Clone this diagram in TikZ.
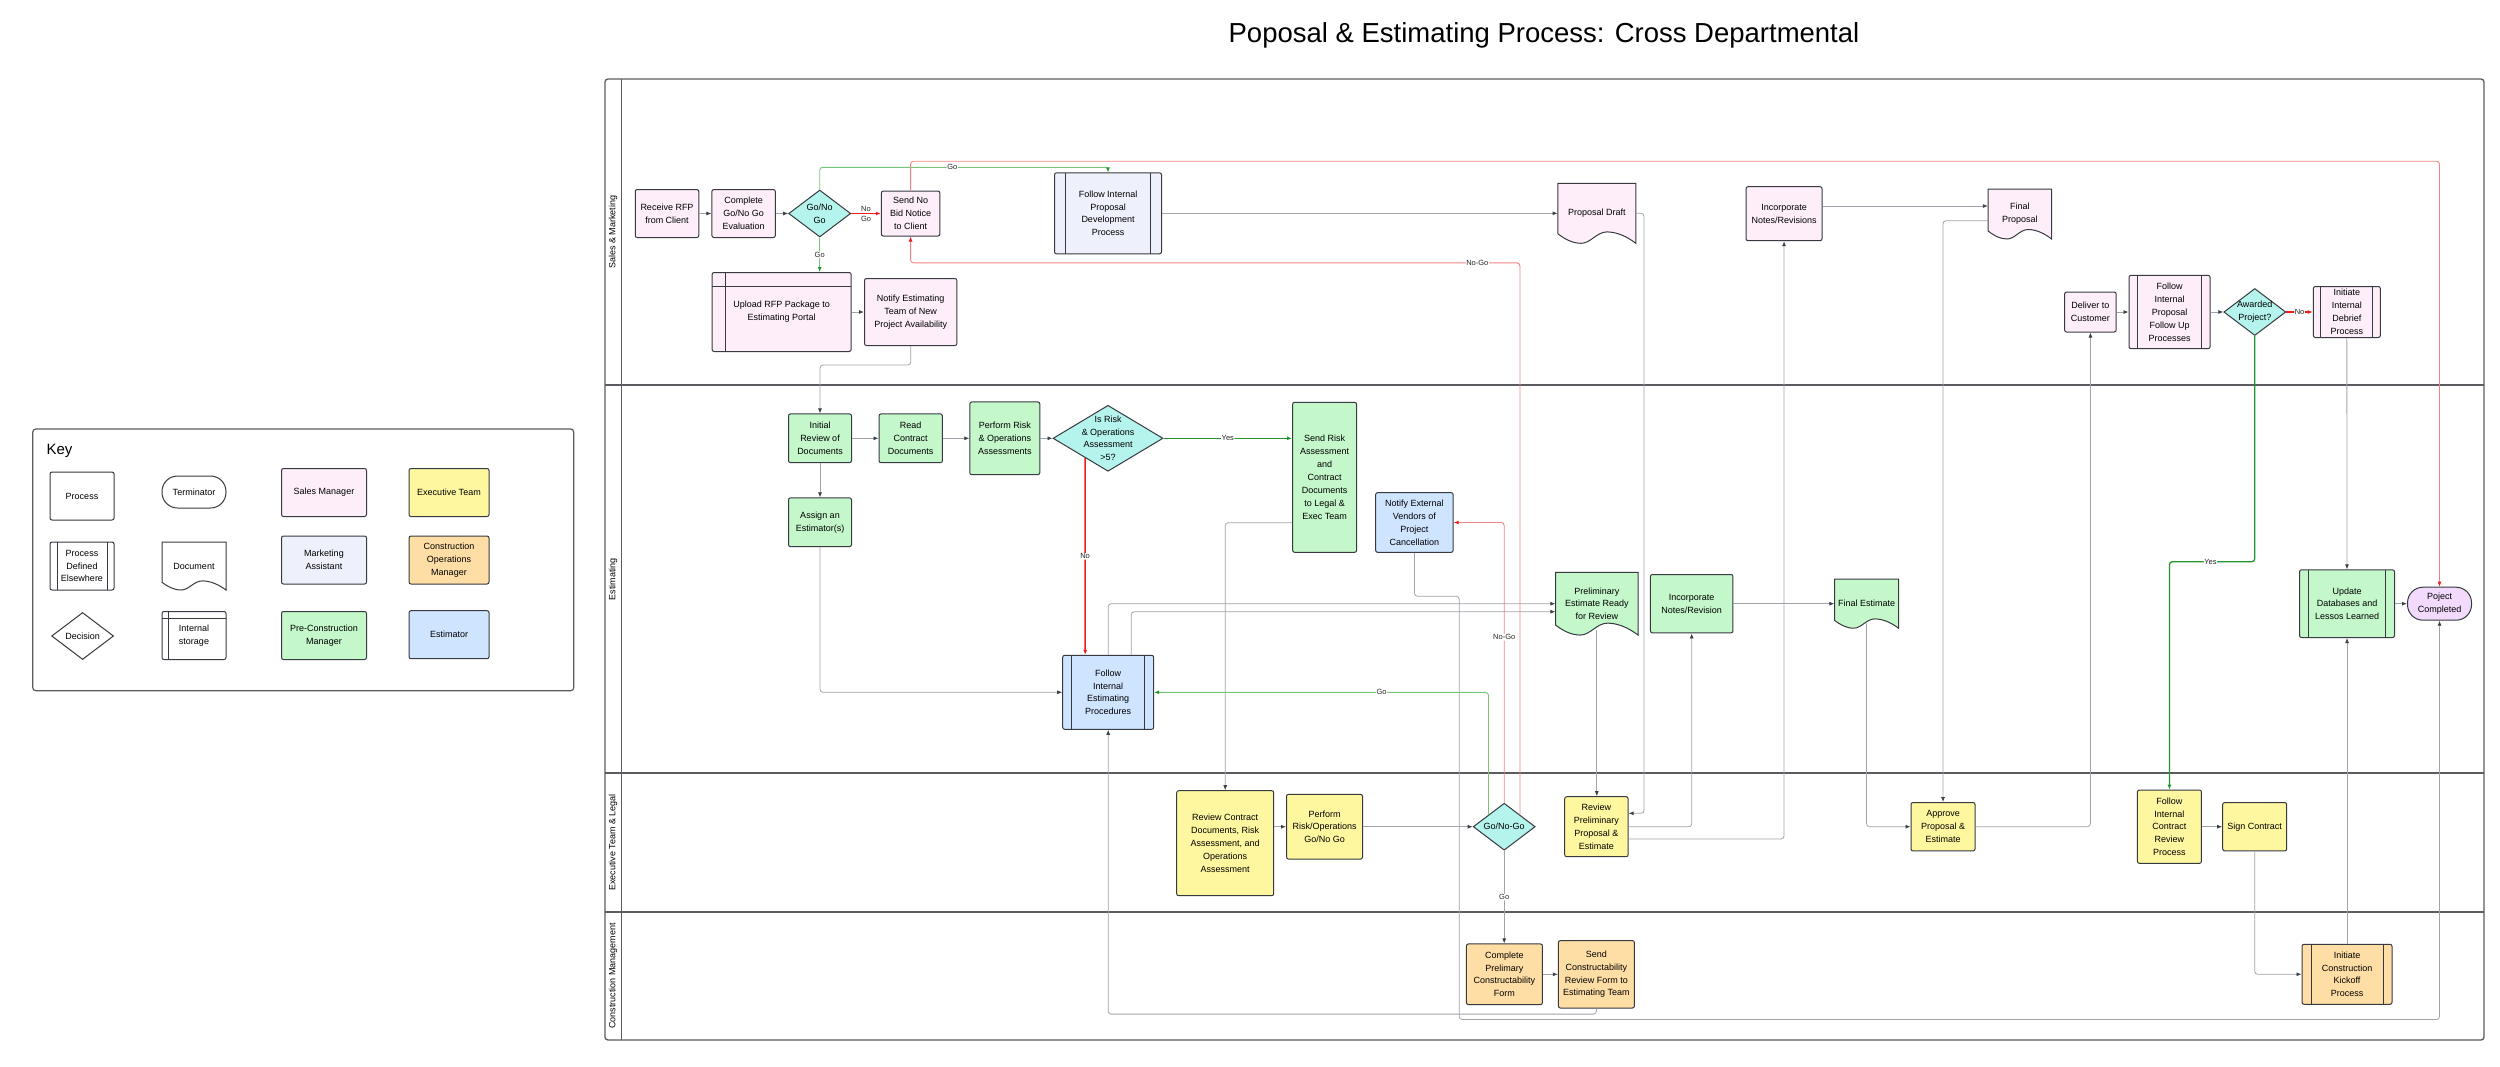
\documentclass[tikz,border=0pt]{standalone}
\usepackage{fontspec}
\setmainfont{Liberation Sans}
\usepackage{xcolor}
\usetikzlibrary{arrows.meta,shapes.geometric,calc,backgrounds}

\definecolor{salescol}{RGB}{253,238,250}
\definecolor{markcol}{RGB}{238,240,252}
\definecolor{precol}{RGB}{196,247,201}
\definecolor{execcol}{RGB}{255,247,160}
\definecolor{cmcol}{RGB}{255,222,166}
\definecolor{estcol}{RGB}{207,228,255}
\definecolor{deccol}{RGB}{181,244,236}
\definecolor{termcol}{RGB}{242,218,252}
\definecolor{edgecol}{RGB}{55,58,64}
\definecolor{linecol}{RGB}{160,163,170}
\definecolor{tipcol}{RGB}{60,64,72}
\definecolor{gocol}{RGB}{34,150,44}
\definecolor{golite}{RGB}{120,196,120}
\definecolor{nocol}{RGB}{240,28,28}
\definecolor{nolite}{RGB}{242,130,130}
\definecolor{poolcol}{RGB}{90,92,96}

\tikzset{
  txt/.style={font=\fontsize{9}{12.9}\selectfont},
  wh/.style 2 args={minimum width=#1, minimum height=#2},
  shapeline/.style={draw=edgecol, line width=1pt},
  procbox/.style={txt, shapeline, rectangle, rounded corners=2pt, align=center, inner sep=0.5pt},
  pdebox/.style={procbox, path picture={
      \draw[edgecol, line width=1pt]
        ([xshift=#1]path picture bounding box.north west) -- ([xshift=#1]path picture bounding box.south west)
        ([xshift=-#1]path picture bounding box.north east) -- ([xshift=-#1]path picture bounding box.south east);}},
  pdebox/.default=9pt,
  storebox/.style={procbox, path picture={
      \draw[edgecol, line width=1pt]
        ([xshift=#1]path picture bounding box.north west) -- ([xshift=#1]path picture bounding box.south west)
        ([yshift=-#1]path picture bounding box.north west) -- ([yshift=-#1]path picture bounding box.north east);}},
  storebox/.default=6.5pt,
  termbox/.style={procbox, rounded corners=15.5pt},
  decbox/.style={shapeline, diamond, fill=deccol, inner sep=0pt},
  dectext/.style={txt, align=center},
  docbox/.style n args={3}{txt, rectangle, align=center, inner sep=0.5pt,
    minimum width=#1, minimum height=#2,
    append after command={\pgfextra{%
      \begin{pgfonlayer}{background}
        \draw[shapeline, fill=#3, shift={(\tikzlastnode.center)}]
          ({-#1/2},{-#2/2}) -- ({#1/2},{-#2/2}) -- ({#1/2},{#2/2})
          .. controls ({0.38*#1},{0.38*#2}) and ({0.25*#1},{0.31*#2}) .. ({0.13*#1},{0.31*#2})
          .. controls ({0*#1},{0.31*#2}) and ({-0.08*#1},{0.5*#2}) .. ({-0.2*#1},{0.5*#2})
          .. controls ({-0.32*#1},{0.5*#2}) and ({-0.42*#1},{0.42*#2}) .. ({-0.5*#1},{0.34*#2})
          -- cycle;
      \end{pgfonlayer}}}},
  flow/.style={draw=linecol, line width=0.8pt, rounded corners=3pt, -{Latex[length=5pt,width=4pt,color=tipcol]}},
  yesflow/.style={flow, draw=gocol, line width=1.3pt, -{Latex[length=5pt,width=4pt,color=gocol]}},
  goflow/.style={flow, draw=golite, line width=0.9pt, -{Latex[length=5pt,width=4pt,color=gocol]}},
  noflow/.style={flow, draw=nocol, line width=1.5pt, -{Latex[length=5pt,width=4pt,color=nocol]}},
  nogoflow/.style={flow, draw=nolite, line width=0.9pt, -{Latex[length=5pt,width=4pt,color=nocol]}},
  elabel/.style={font=\fontsize{7.5}{9}\selectfont, fill=white, inner sep=0.6pt, text=black!85},
  lanelbl/.style={txt, rotate=90},
  poolline/.style={draw=poolcol, line width=1.3pt},
}

\begin{document}
\begin{tikzpicture}[x=1pt, y=-1pt]
    \useasboundingbox (0,0) rectangle (2500,1066);

    % Title
    \node[font=\fontsize{27.5}{32}\selectfont] (title) at (1544,35) {Poposal \& Estimating Process: Cross Departmental};

    % Key
    \draw[poolline, line width=1.2pt, rounded corners=3pt] (32.8,429) rectangle (573.7,690.7);
    \node[font=\fontsize{15}{18}\selectfont, anchor=west] (keyhead) at (43,451) {Key};
    \node[procbox, fill=white, wh={64}{48}] (kproc) at (82,496) {Process};
    \node[termbox, fill=white, wh={64}{32}] (kterm) at (194,492) {Terminator};
    \node[procbox, fill=salescol, wh={85}{48}] (ksales) at (324,492.5) {Sales Manager};
    \node[procbox, fill=execcol, wh={80}{48}] (kexec) at (449,492.5) {Executive Team};
    \node[pdebox=7pt, fill=white, wh={64}{48}] (kpde) at (82,566) {Process\\Defined\\Elsewhere};
    \node[docbox={64}{48}{white}] (kdoc) at (194,566) {Document};
    \node[procbox, fill=markcol, wh={85}{48}] (kmkt) at (324,560) {Marketing\\Assistant};
    \node[procbox, fill=cmcol, wh={80}{48}] (kcm) at (449,560) {Construction\\Operations\\Manager};
    \node[decbox, fill=white, wh={62}{47}, label={[dectext]center:Decision}] (kdec) at (82.6,636) {};
    \node[storebox, fill=white, wh={64}{48}] (kstore) at (194,635.5) {Internal\\storage};
    \node[procbox, fill=precol, wh={85}{48}] (kpre) at (324,635.5) {Pre-Construction\\Manager};
    \node[procbox, fill=estcol, wh={80}{48}] (kestr) at (449,634.7) {Estimator};

    % Pool and lanes
    \draw[poolline, rounded corners=3pt] (605,79) rectangle (2484,1040);
    \draw[poolline] (621.6,79) -- (621.6,1040);
    \foreach \y in {385,773,912} {
        \draw[poolline] (605,\y) -- (2484,\y);
    }
    \node[lanelbl] (lanesales) at (613,232) {Sales \& Marketing};
    \node[lanelbl] (laneest) at (613,579) {Estimating};
    \node[lanelbl] (laneexec) at (613,842.5) {Executive Team \& Legal};
    \node[lanelbl] (lanecm) at (613,976) {Construction Management};

    % Sales & Marketing
    \node[procbox, fill=salescol, wh={63.5}{48}] (rfp) at (667,213.5) {Receive RFP\\from Client};
    \node[procbox, fill=salescol, wh={63.4}{48}] (evalgng) at (743.6,213.5) {Complete\\Go/No Go\\Evaluation};
    \node[decbox, wh={62}{47}, label={[dectext]center:{Go/No\\Go}}] (gngsales) at (819.7,213.5) {};
    \node[procbox, fill=salescol, wh={58.5}{45}] (nobid) at (910.6,213.5) {Send No\\Bid Notice\\to Client};
    \node[pdebox=10.8pt, fill=markcol, wh={107}{81}] (propdev) at (1108,213.3) {Follow Internal\\Proposal\\Development\\Process};
    \node[storebox=13.7pt, fill=salescol, wh={139}{79}] (upload) at (781.6,312) {Upload RFP Package to\\Estimating Portal};
    \node[procbox, fill=salescol, wh={92.4}{67}] (notifyest) at (910.7,312) {Notify Estimating\\Team of New\\Project Availability};
    \node[docbox={78}{60}{salescol}] (pdraft) at (1596.8,213.3) {Proposal Draft};
    \node[procbox, fill=salescol, wh={76}{54}] (incsales) at (1784,213.7) {Incorporate\\Notes/Revisions};
    \node[docbox={63.5}{50}{salescol}] (finalprop) at (2019.8,214) {Final\\Proposal};
    \node[procbox, fill=salescol, wh={51.6}{40}] (deliver) at (2090.4,312) {Deliver to\\Customer};
    \node[pdebox=8.4pt, fill=salescol, wh={81}{73.4}] (followup) at (2169.5,312) {Follow\\Internal\\Proposal\\Follow Up\\Processes};
    \node[decbox, wh={62}{47}, label={[dectext]center:{Awarded\\Project?}}] (awarded) at (2254.8,312) {};
    \node[pdebox=7.5pt, fill=salescol, wh={67}{51}] (debrief) at (2346.8,312) {Initiate\\Internal\\Debrief\\Process};

    % Estimating
    \node[procbox, fill=precol, wh={63}{48.7}] (initrev) at (820,438.3) {Initial\\Review of\\Documents};
    \node[procbox, fill=precol, wh={63.4}{48.7}] (readdocs) at (910.7,438.3) {Read\\Contract\\Documents};
    \node[procbox, fill=precol, wh={70}{72.7}] (riskassess) at (1004.8,438.3) {Perform Risk\\\& Operations\\Assessments};
    \node[decbox, wh={110}{66}, label={[dectext]center:{Is Risk\\\& Operations\\Assessment\\>5?}}] (riskq) at (1108,438.3) {};
    \node[procbox, fill=precol, wh={64}{150}] (sendrisk) at (1324.6,477.3) {Send Risk\\Assessment\\and\\Contract\\Documents\\to Legal \&\\Exec Team};
    \node[procbox, fill=precol, wh={63}{48.7}] (assign) at (820,522.3) {Assign an\\Estimator(s)};
    \node[pdebox, fill=estcol, wh={91}{74}] (estproc) at (1108.2,692.3) {Follow\\Internal\\Estimating\\Procedures};
    \node[procbox, fill=estcol, wh={77.5}{59.7}] (vendors) at (1414.4,522.5) {Notify External\\Vendors of\\Project\\Cancellation};
    \node[docbox={82.5}{62.7}{precol}] (prelim) at (1596.8,603.7) {Preliminary\\Estimate Ready\\for Review};
    \node[procbox, fill=precol, wh={82.5}{58.4}] (incest) at (1691.7,603.7) {Incorporate\\Notes/Revision};
    \node[docbox={64}{49}{precol}] (finalest) at (1866.5,603.7) {Final Estimate};
    \node[pdebox, fill=precol, wh={95}{67.7}] (update) at (2347,603.7) {Update\\Databases and\\Lessos Learned};
    \node[termbox, fill=termcol, wh={64}{33}] (done) at (2439.5,603.7) {Poject\\Completed};

    % Executive Team & Legal
    \node[procbox, fill=execcol, wh={97}{105}] (revcontract) at (1225.2,843.2) {Review Contract\\Documents, Risk\\Assessment, and\\Operations\\Assessment};
    \node[procbox, fill=execcol, wh={76}{64.7}] (perfgng) at (1324.5,826.7) {Perform\\Risk/Operations\\Go/No Go};
    \node[decbox, wh={62}{47}, label={[dectext]center:Go/No-Go}] (gngexec) at (1504.2,826.7) {};
    \node[procbox, fill=execcol, wh={63.4}{60}] (revprelim) at (1596.4,826.7) {Review\\Preliminary\\Proposal \&\\Estimate};
    \node[procbox, fill=execcol, wh={64}{48.4}] (approve) at (1943,826.7) {Approve\\Proposal \&\\Estimate};
    \node[procbox, fill=execcol, wh={64}{73.3}] (contractrev) at (2169.4,826.7) {Follow\\Internal\\Contract\\Review\\Process};
    \node[procbox, fill=execcol, wh={64}{48.4}] (sign) at (2254.7,826.7) {Sign Contract};

    % Construction Management
    \node[procbox, fill=cmcol, wh={76}{60.7}] (complform) at (1504.4,974.3) {Complete\\Prelimary\\Constructability\\Form};
    \node[procbox, fill=cmcol, wh={76}{67.4}] (sendform) at (1596.4,974.3) {Send\\Constructability\\Review Form to\\Estimating Team};
    \node[pdebox, fill=cmcol, wh={90}{60}] (kickoff) at (2347,974.3) {Initiate\\Construction\\Kickoff\\Process};

    % Sales & Marketing flow
    \draw[flow] (rfp) -- (evalgng);
    \draw[flow] (evalgng) -- (gngsales);
    \draw[noflow] (gngsales) -- node[elabel, yshift=5pt]{No} node[elabel, yshift=-5pt]{Go} (nobid);
    \draw[goflow] (gngsales.north) |- node[elabel, pos=0.73]{Go} ([yshift=5pt]propdev.north) -- (propdev.north);
    \draw[goflow] (gngsales.south) -- node[elabel]{Go} (gngsales.south |- upload.north);
    \draw[flow] (upload) -- (notifyest);
    \draw[flow] (notifyest.south) -- ++(0,19) -| (initrev.north);
    \draw[nogoflow] (nobid.north) -- ++(0,-29.3) -| (done.north);
    \draw[flow] (propdev) -- (pdraft);
    \draw[flow] (pdraft.east) -- ++(8,0) |- ([yshift=13.4pt]revprelim.east);
    \draw[flow] ([yshift=7.7pt]incsales.east) -- ($(finalprop.west)+(0,-8)$);
    \draw[flow] ($(finalprop.west)+(0,6.7)$) -| (approve.north);
    \draw[flow] (deliver) -- (followup);
    \draw[flow] (followup) -- (awarded);
    \draw[noflow] (awarded) -- node[elabel]{No} (debrief);
    \draw[yesflow] (awarded.south) -- ++(0,225.7) -| node[elabel, pos=0.26]{Yes} (contractrev.north);
    \draw[flow] (debrief) -- (update);

    % Estimating flow
    \draw[flow] (initrev) -- (readdocs);
    \draw[flow] (readdocs) -- (riskassess);
    \draw[flow] (riskassess) -- (riskq);
    \draw[yesflow] (riskq.east) -- node[elabel]{Yes} (riskq.east -| sendrisk.west);
    \draw[noflow] ($(riskq.south)+(-23,-13.8)$) -- node[elabel]{No} ([xshift=-23pt]estproc.north);
    \draw[flow] (initrev) -- (assign);
    \draw[flow] (assign.south) |- (estproc.west);
    \draw[flow] ($(sendrisk.west)+(0,45.4)$) -| (revcontract.north);
    \draw[flow] (estproc.north) |- (prelim.west);
    \draw[flow] ([xshift=23pt]estproc.north) |- ($(prelim.west)+(0,8)$);
    \draw[flow] (vendors.south) -- ++(0,43.4) -- ++(44.8,0) -- ++(0,423.3) -| (done.south);
    \draw[flow] ([yshift=5pt]prelim.south) -- (prelim.south |- revprelim.north);
    \draw[flow] (incest) -- (finalest);
    \draw[flow] ([yshift=5pt]finalest.south) |- (approve.west);
    \draw[flow] (update) -- (done);

    % Executive Team & Legal flow
    \draw[flow] (revcontract.east |- perfgng.west) -- (perfgng.west);
    \draw[flow] (perfgng) -- (gngexec);
    \draw[nogoflow] (gngexec.north) |- node[elabel, pos=0.295]{No-Go} (vendors.east);
    \draw[nogoflow] (gngexec.north east) -- ++(0,-551.8) -| node[elabel, pos=0.035]{No-Go} (nobid.south);
    \draw[goflow] (gngexec.north west) |- node[elabel, pos=0.66]{Go} (estproc.east);
    \draw[flow] (gngexec.south) -- node[elabel]{Go} (gngexec.south |- complform.north);
    \draw[flow] (revprelim.east) -| (incest.south);
    \draw[flow] ([yshift=-12.3pt]revprelim.east) -| (incsales.south);
    \draw[flow] (approve.east) -| (deliver.south);
    \draw[flow] (contractrev) -- (sign);
    \draw[flow] (sign.south) |- (kickoff.west);

    % Construction Management flow
    \draw[flow] (complform) -- (sendform);
    \draw[flow] (sendform.south) -- ++(0,5.6) -| (estproc.south);
    \draw[flow] (kickoff) -- (update);
\end{tikzpicture}
\end{document}
